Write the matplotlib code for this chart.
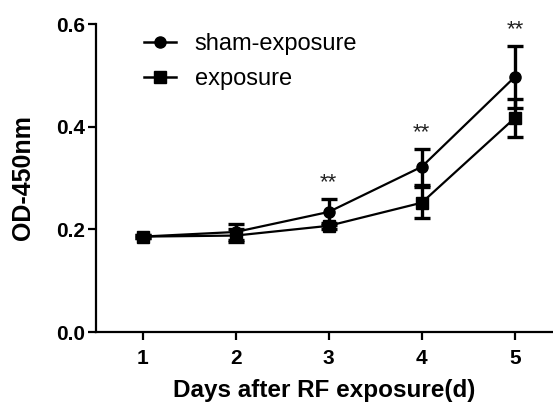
import numpy as np
import matplotlib.pyplot as plt
from matplotlib.lines import Line2D

plt.rcParams['font.family'] = ['Liberation Sans', 'DejaVu Sans']

# *****************************************************************************

DAYS = [1, 2, 3, 4, 5]
SHAM_MEAN = [0.186, 0.195, 0.234, 0.322, 0.497]
SHAM_ERR = [0.003, 0.016, 0.025, 0.035, 0.060]
EXPO_MEAN = [0.186, 0.188, 0.207, 0.252, 0.417]
EXPO_ERR = [0.003, 0.012, 0.006, 0.030, 0.037]
SIG_DAYS = [3, 4, 5]
SIG_LABEL = '**'

# *****************************************************************************


def make_fig():

    fig01 = plt.figure(figsize=(5.53, 4.05), dpi=100)
    axs01 = fig01.add_axes([0.1736, 0.180, 0.8264, 0.7607])

    common = dict(color='k', lw=1.6, capsize=5.5, capthick=2.4, elinewidth=2.4,
                  markersize=8, clip_on=False, zorder=3)
    axs01.errorbar(DAYS, SHAM_MEAN, yerr=SHAM_ERR, marker='o', **common)
    axs01.errorbar(DAYS, EXPO_MEAN, yerr=EXPO_ERR, marker='s', **common)

    for day in SIG_DAYS:
        idx = DAYS.index(day)
        ytop = SHAM_MEAN[idx] + SHAM_ERR[idx]
        axs01.annotate(SIG_LABEL, (day, ytop), xytext=(0, 4),
                       textcoords='offset points', ha='center', va='bottom',
                       fontsize=16, color='#222222')

    axs01.set_xlim(0.5, 5.41)
    axs01.set_ylim(0.0, 0.6)
    axs01.set_xticks(DAYS)
    axs01.set_yticks([0.0, 0.2, 0.4, 0.6])
    axs01.set_yticklabels(['{:.1f}'.format(v) for v in [0.0, 0.2, 0.4, 0.6]])

    for side in ['top', 'right']:
        axs01.spines[side].set_visible(False)
    for side in ['left', 'bottom']:
        axs01.spines[side].set_linewidth(1.6)

    axs01.tick_params(axis='both', which='major', width=1.6, length=6,
                      labelsize=15, colors='k')
    for lab in axs01.get_xticklabels() + axs01.get_yticklabels():
        lab.set_fontweight('bold')
    axs01.tick_params(axis='x', pad=6)
    axs01.tick_params(axis='y', pad=2)

    axs01.set_ylabel('OD-450nm', fontsize=18, fontweight='bold', labelpad=15)
    axs01.set_xlabel('Days after RF exposure(d)', fontsize=17.5,
                     fontweight='bold', labelpad=8)

    hands = [Line2D([], [], color='k', lw=1.8, marker='o', markersize=8),
             Line2D([], [], color='k', lw=1.8, marker='s', markersize=8)]
    axs01.legend(hands, ['sham-exposure', 'exposure'], loc='upper left',
                 bbox_to_anchor=(0.058, 1.04), frameon=False, fontsize=17,
                 handlelength=1.35, handletextpad=0.8, labelspacing=0.55)

    plt.savefig('out.png', dpi=100)
    plt.close()

    return None

# *****************************************************************************


if (__name__ == "__main__"):

    make_fig()
